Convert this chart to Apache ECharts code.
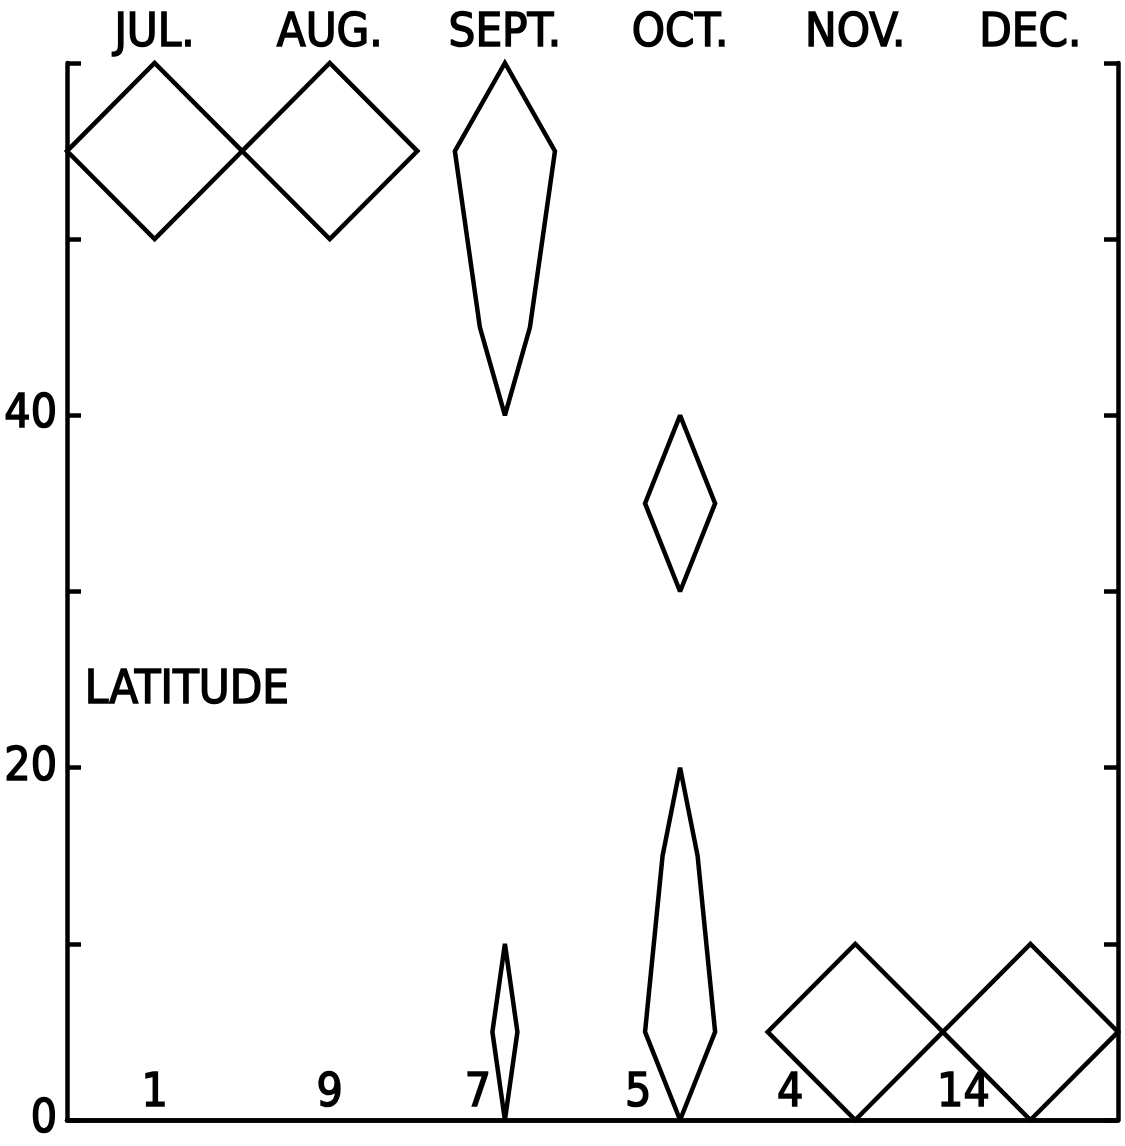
<!DOCTYPE html>
<html>
<head>
<meta charset="utf-8">
<script src="https://cdn.jsdelivr.net/npm/echarts@6/dist/echarts.min.js"></script>
<style>
html,body{margin:0;padding:0;background:#fff;}
#chart{width:1125px;height:1146px;}
</style>
</head>
<body>
<div id="chart"></div>
<script>
// ---- data ----
var months = ['JUL.', 'AUG.', 'SEPT.', 'OCT.', 'NOV.', 'DEC.'];
var latBins = [5, 15, 25, 35, 45, 55];          // bin centres (latitude)
var countsJul  = [0, 0, 0, 0, 0, 1];
var countsAug  = [0, 0, 0, 0, 0, 9];
var countsSept = [1, 0, 0, 0, 2, 4];
var countsOct  = [2, 1, 0, 2, 0, 0];
var countsNov  = [4, 0, 0, 0, 0, 0];
var countsDec  = [14, 0, 0, 0, 0, 0];
var totals = [1, 9, 7, 5, 4, 14];
var yTickLabels = ['0', '20', '40'];

// ---- layout/style (not data) ----
var countLabelOffsetX = [0, 0, -27, -42, -65, -67];
var FONT = '"Liberation Sans Narrow", "DejaVu Sans Condensed", sans-serif';
var TEXT_BORDER = { textBorderColor: '#000', textBorderWidth: 1.5 };
var LINE_W = 4.5;

var allCounts = [countsJul, countsAug, countsSept, countsOct, countsNov, countsDec];
var binHalf = 5;

function runsOf(counts) {
  var runs = [], cur = null;
  for (var i = 0; i < counts.length; i++) {
    if (counts[i] > 0) { if (!cur) { cur = []; runs.push(cur); } cur.push(i); }
    else cur = null;
  }
  return runs;
}

var chart = echarts.init(document.getElementById('chart'));
var option = {
  backgroundColor: '#fff',
  animation: false,
  grid: { left: 67, right: 7, top: 63, bottom: 26, containLabel: false },
  xAxis: [
    {
      type: 'value', min: 0.5, max: 6.5, position: 'bottom',
      axisLine: { show: true, onZero: false, lineStyle: { color: '#000', width: LINE_W } },
      axisTick: { show: false }, axisLabel: { show: false }, splitLine: { show: false }
    },
    {
      type: 'category', data: months, position: 'top', boundaryGap: true,
      axisLine: { show: true, lineStyle: { color: '#000', width: LINE_W } },
      axisTick: { show: false }, splitLine: { show: false },
      axisLabel: Object.assign({ color: '#000', fontSize: 47, fontFamily: FONT, margin: 6 }, TEXT_BORDER)
    }
  ],
  yAxis: [
    {
      type: 'value', min: 0, max: 60, interval: 10, position: 'left',
      axisLine: { show: true, onZero: false, lineStyle: { color: '#000', width: LINE_W } },
      axisTick: { show: true, inside: true, length: 14, lineStyle: { color: '#000', width: LINE_W } },
      splitLine: { show: false },
      axisLabel: Object.assign({
        color: '#000', fontSize: 46, fontFamily: FONT, margin: 10,
        formatter: function (v) { return yTickLabels.indexOf(String(v)) >= 0 ? String(v) : ''; }
      }, TEXT_BORDER)
    },
    {
      type: 'value', min: 0, max: 60, interval: 10, position: 'right',
      axisLine: { show: true, onZero: false, lineStyle: { color: '#000', width: LINE_W } },
      axisTick: { show: true, inside: true, length: 14, lineStyle: { color: '#000', width: LINE_W } },
      splitLine: { show: false }, axisLabel: { show: false }
    }
  ],
  graphic: [
    { type: 'text', left: 84, top: 667,
      style: { text: 'LATITUDE', fontSize: 47, fontFamily: FONT, fill: '#000', stroke: '#000', lineWidth: 1.5 } }
  ],
  series: [
    {
      type: 'custom',
      xAxisIndex: 0, yAxisIndex: 0,
      clip: false,
      data: months.map(function (m, i) { return [i + 1, totals[i]]; }),
      renderItem: function (params, api) {
        var mi = params.dataIndex;
        var xc = mi + 1;
        var counts = allCounts[mi];
        var total = totals[mi];
        var children = [];
        runsOf(counts).forEach(function (run) {
          var first = run[0], last = run[run.length - 1];
          var pts = [];
          pts.push(api.coord([xc, latBins[first] - binHalf]));
          run.forEach(function (b) {
            pts.push(api.coord([xc + 0.5 * counts[b] / total, latBins[b]]));
          });
          pts.push(api.coord([xc, latBins[last] + binHalf]));
          for (var k = run.length - 1; k >= 0; k--) {
            var b = run[k];
            pts.push(api.coord([xc - 0.5 * counts[b] / total, latBins[b]]));
          }
          children.push({
            type: 'polygon',
            shape: { points: pts },
            style: { fill: 'none', stroke: '#000', lineWidth: LINE_W, lineJoin: 'miter', miterLimit: 2.5 }
          });
        });
        var base = api.coord([xc, 0]);
        children.push({
          type: 'text',
          x: base[0] + countLabelOffsetX[mi],
          y: base[1] - 26,
          style: {
            text: String(total), fontSize: 46, fontFamily: FONT, fill: '#000',
            stroke: '#000', lineWidth: 1.5,
            align: 'center', verticalAlign: 'middle'
          }
        });
        return { type: 'group', children: children };
      }
    }
  ]
};
chart.setOption(option);
</script>
</body>
</html>
